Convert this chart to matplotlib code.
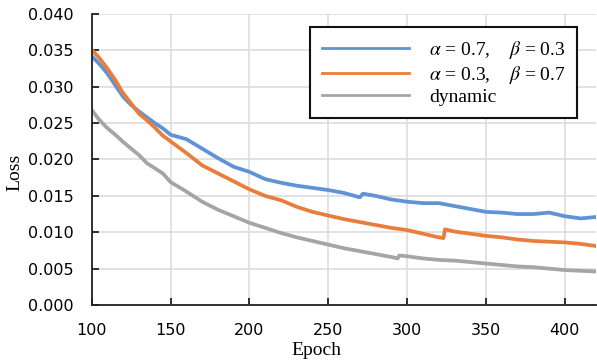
import matplotlib
matplotlib.use("Agg")
import matplotlib.pyplot as plt

# epochs and loss values
blue_epochs = [100, 105, 110, 115, 120, 125, 130, 135, 140, 145, 150, 160, 170, 180, 190,
               200, 210, 220, 230, 240, 250, 260, 270, 272, 280, 290, 300, 310, 320, 330,
               340, 350, 360, 370, 380, 390, 400, 410, 420]
blue_loss = [0.0342, 0.0331, 0.0318, 0.0302, 0.0286, 0.0275, 0.0266, 0.0258, 0.0250, 0.0243,
             0.0234, 0.0228, 0.0215, 0.0202, 0.0190, 0.0183, 0.0173, 0.0168, 0.0164, 0.0161,
             0.0158, 0.0154, 0.0148, 0.0153, 0.0150, 0.0145, 0.0142, 0.0140, 0.0140, 0.0136,
             0.0132, 0.0128, 0.0127, 0.0125, 0.0125, 0.0127, 0.0122, 0.0119, 0.0121]

orange_epochs = [100, 105, 110, 115, 120, 125, 130, 135, 140, 145, 150, 160, 170, 180, 190,
                 200, 210, 220, 230, 240, 250, 260, 270, 280, 290, 300, 310, 320, 323, 324,
                 330, 340, 350, 360, 370, 380, 390, 400, 410, 420]
orange_loss = [0.0351, 0.0339, 0.0325, 0.0309, 0.0291, 0.0277, 0.0263, 0.0254, 0.0244, 0.0233,
               0.0225, 0.0209, 0.0192, 0.0181, 0.0170, 0.0159, 0.0150, 0.0144, 0.0135, 0.0128,
               0.0123, 0.0118, 0.0114, 0.0110, 0.0106, 0.0103, 0.0098, 0.0093, 0.0092, 0.0104,
               0.0101, 0.0098, 0.0095, 0.0093, 0.0090, 0.0088, 0.0087, 0.0086, 0.0084, 0.0081]

gray_epochs = [100, 105, 110, 115, 120, 125, 130, 135, 140, 145, 150, 160, 170, 180, 190,
               200, 210, 220, 230, 240, 250, 260, 270, 280, 290, 294, 295, 300, 310, 320,
               330, 340, 350, 360, 370, 380, 390, 400, 410, 420]
gray_loss = [0.0268, 0.0254, 0.0243, 0.0234, 0.0224, 0.0215, 0.0206, 0.0195, 0.0188, 0.0181,
             0.0169, 0.0156, 0.0142, 0.0131, 0.0122, 0.0113, 0.0106, 0.0099, 0.0093, 0.0088,
             0.0083, 0.0078, 0.0074, 0.0070, 0.0066, 0.0064, 0.0068, 0.0067, 0.0064, 0.0062,
             0.0061, 0.0059, 0.0057, 0.0055, 0.0053, 0.0052, 0.0050, 0.0048, 0.0047, 0.0046]

series_labels = [r"$\alpha$ = 0.7,    $\beta$ = 0.3",
                 r"$\alpha$ = 0.3,    $\beta$ = 0.7",
                 "dynamic"]
x_ticks = [100, 150, 200, 250, 300, 350, 400]
y_ticks = [0.000, 0.005, 0.010, 0.015, 0.020, 0.025, 0.030, 0.035, 0.040]

plt.rcParams["mathtext.fontset"] = "stix"

fig = plt.figure(figsize=(5.97, 3.6), dpi=100)
ax = fig.add_axes([0.1536, 0.1528, 0.8454, 0.8083])

ax.plot(blue_epochs, blue_loss, color="#5F93D6", lw=2.7, label=series_labels[0])
ax.plot(orange_epochs, orange_loss, color="#E97D3B", lw=2.7, label=series_labels[1])
ax.plot(gray_epochs, gray_loss, color="#A5A5A5", lw=2.7, label=series_labels[2])

ax.set_xlim(100, 420)
ax.set_ylim(0, 0.040)
ax.set_xticks(x_ticks)
ax.set_yticks(y_ticks)
ax.set_yticklabels([f"{v:.3f}" for v in y_ticks])
ax.grid(True, color="#DDDDDD", lw=1.2)
ax.set_axisbelow(True)

for side in ("top", "right"):
    ax.spines[side].set_visible(False)
for side in ("left", "bottom"):
    ax.spines[side].set_color("#222222")
    ax.spines[side].set_linewidth(1.3)

ax.tick_params(direction="in", length=5, width=1.3, color="#222222",
               labelsize=11.5, pad=13, labelcolor="black")

ax.set_xlabel("Epoch", family="Liberation Serif", fontsize=14)
ax.set_ylabel("Loss", family="Liberation Serif", fontsize=14)
ax.xaxis.set_label_coords(0.446, -0.128)
ax.yaxis.set_label_coords(-0.136, 0.457)

leg = ax.legend(loc="upper right", bbox_to_anchor=(0.962, 0.955), borderaxespad=0,
                fancybox=False, framealpha=1, edgecolor="#111111",
                prop={"family": "Liberation Serif", "size": 14},
                handlelength=4.5, handletextpad=1.0, labelspacing=0.15,
                borderpad=0.6)
leg.get_frame().set_linewidth(1.5)
for line in leg.get_lines():
    line.set_linewidth(2.0)

fig.savefig("out.png", dpi=100)
